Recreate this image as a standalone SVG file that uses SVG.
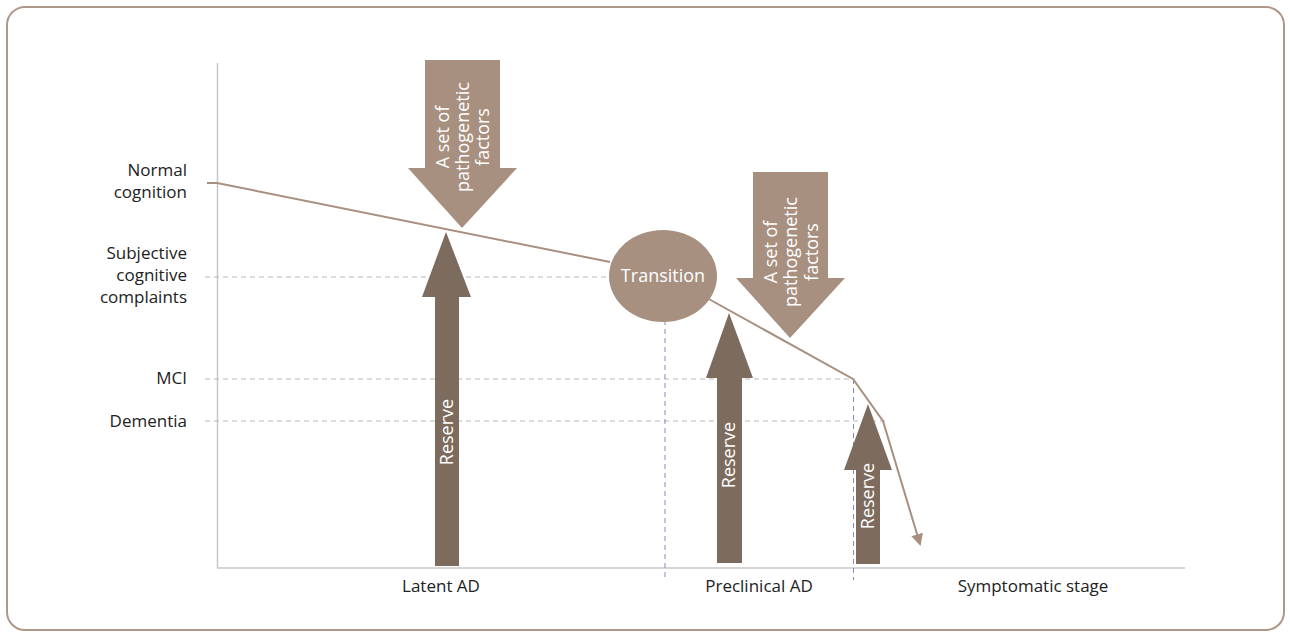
<svg xmlns="http://www.w3.org/2000/svg" width="1290" height="637" viewBox="0 0 1290 637">
<style>
.lbl{font-family:"Open Sans","Liberation Sans",sans-serif;font-size:17px;fill:#222}
.wt{font-family:"Open Sans","Liberation Sans",sans-serif;font-size:18px;fill:#fff}
.grid{stroke:#b8b8b8;stroke-width:1;stroke-dasharray:5,4;fill:none}
.vgrid{stroke:#8a88b8;stroke-width:1;stroke-dasharray:5,4;fill:none}
.light{fill:#a89080}
.dark{fill:#7d6b5d}
</style>
<defs>
<marker id="ah" markerWidth="12" markerHeight="12" refX="10" refY="6" orient="auto" markerUnits="userSpaceOnUse">
<path d="M0,0 L12,6 L0,12 Z" fill="#a89080"/>
</marker>
</defs>
<rect x="7" y="7" width="1277" height="623" rx="18" fill="#fff" stroke="#b09888" stroke-width="2"/>
<g id="axes">
<line x1="217.5" y1="63" x2="217.5" y2="568" stroke="#c8c8c8" stroke-width="1.5"/>
<line x1="217" y1="568" x2="1185" y2="568" stroke="#c8c8c8" stroke-width="1.5"/>
</g>
<g id="gridlines">
<line class="grid" x1="205" y1="277" x2="610" y2="277"/>
<line class="grid" x1="205" y1="379" x2="855" y2="379"/>
<line class="grid" x1="205" y1="421" x2="885" y2="421"/>
<line class="vgrid" x1="665" y1="320" x2="665" y2="580"/>
<line class="vgrid" x1="853.5" y1="379" x2="853.5" y2="580"/>
</g>
<g id="ylabels">
<text class="lbl" text-anchor="end" x="187" y="176">Normal</text>
<text class="lbl" text-anchor="end" x="187" y="198">cognition</text>
<text class="lbl" text-anchor="end" x="187" y="259">Subjective</text>
<text class="lbl" text-anchor="end" x="187" y="281">cognitive</text>
<text class="lbl" text-anchor="end" x="187" y="303">complaints</text>
<text class="lbl" text-anchor="end" x="187" y="384">MCI</text>
<text class="lbl" text-anchor="end" x="187" y="427">Dementia</text>
</g>
<g id="xlabels">
<text class="lbl" text-anchor="middle" x="441" y="592">Latent AD</text>
<text class="lbl" text-anchor="middle" x="759" y="592">Preclinical AD</text>
<text class="lbl" text-anchor="middle" x="1033" y="592">Symptomatic stage</text>
</g>
<g id="connectors">
<polyline points="207,183 217,183 610,262" fill="none" stroke="#a89080" stroke-width="2"/>
<polyline points="707,298 853,379 883,421 920,544" fill="none" stroke="#a89080" stroke-width="2" marker-end="url(#ah)"/>
</g>
<g id="factors1">
<polygon class="light" points="425,60 500,60 500,168 517,168 462,228 408,168 425,168"/>
<text class="wt" transform="translate(462,137) rotate(-90)" text-anchor="middle"><tspan x="0" y="-13">A set of</tspan><tspan x="0" y="7">pathogenetic</tspan><tspan x="0" y="27">factors</tspan></text>
</g>
<g id="factors2">
<polygon class="light" points="753,172 828,172 828,278 845,278 790,338 736,278 753,278"/>
<text class="wt" transform="translate(790,252) rotate(-90)" text-anchor="middle"><tspan x="0" y="-13">A set of</tspan><tspan x="0" y="7">pathogenetic</tspan><tspan x="0" y="28">factors</tspan></text>
</g>
<g id="transition">
<ellipse class="light" cx="663" cy="276" rx="54" ry="46"/>
<text class="wt" x="663" y="282" text-anchor="middle">Transition</text>
</g>
<g id="reserve1">
<polygon class="dark" points="446,232 471,297 459,297 459,566 435,566 435,297 422,297"/>
<text class="wt" transform="translate(453,432) rotate(-90)" text-anchor="middle">Reserve</text>
</g>
<g id="reserve2">
<polygon class="dark" points="729,313 753,378 742,378 742,563 717,563 717,378 706,378"/>
<text class="wt" transform="translate(735,455) rotate(-90)" text-anchor="middle">Reserve</text>
</g>
<g id="reserve3">
<polygon class="dark" points="868,404 892,470 880,470 880,564 856,564 856,470 844,470"/>
<text class="wt" transform="translate(874,496) rotate(-90)" text-anchor="middle">Reserve</text>
</g>
</svg>
